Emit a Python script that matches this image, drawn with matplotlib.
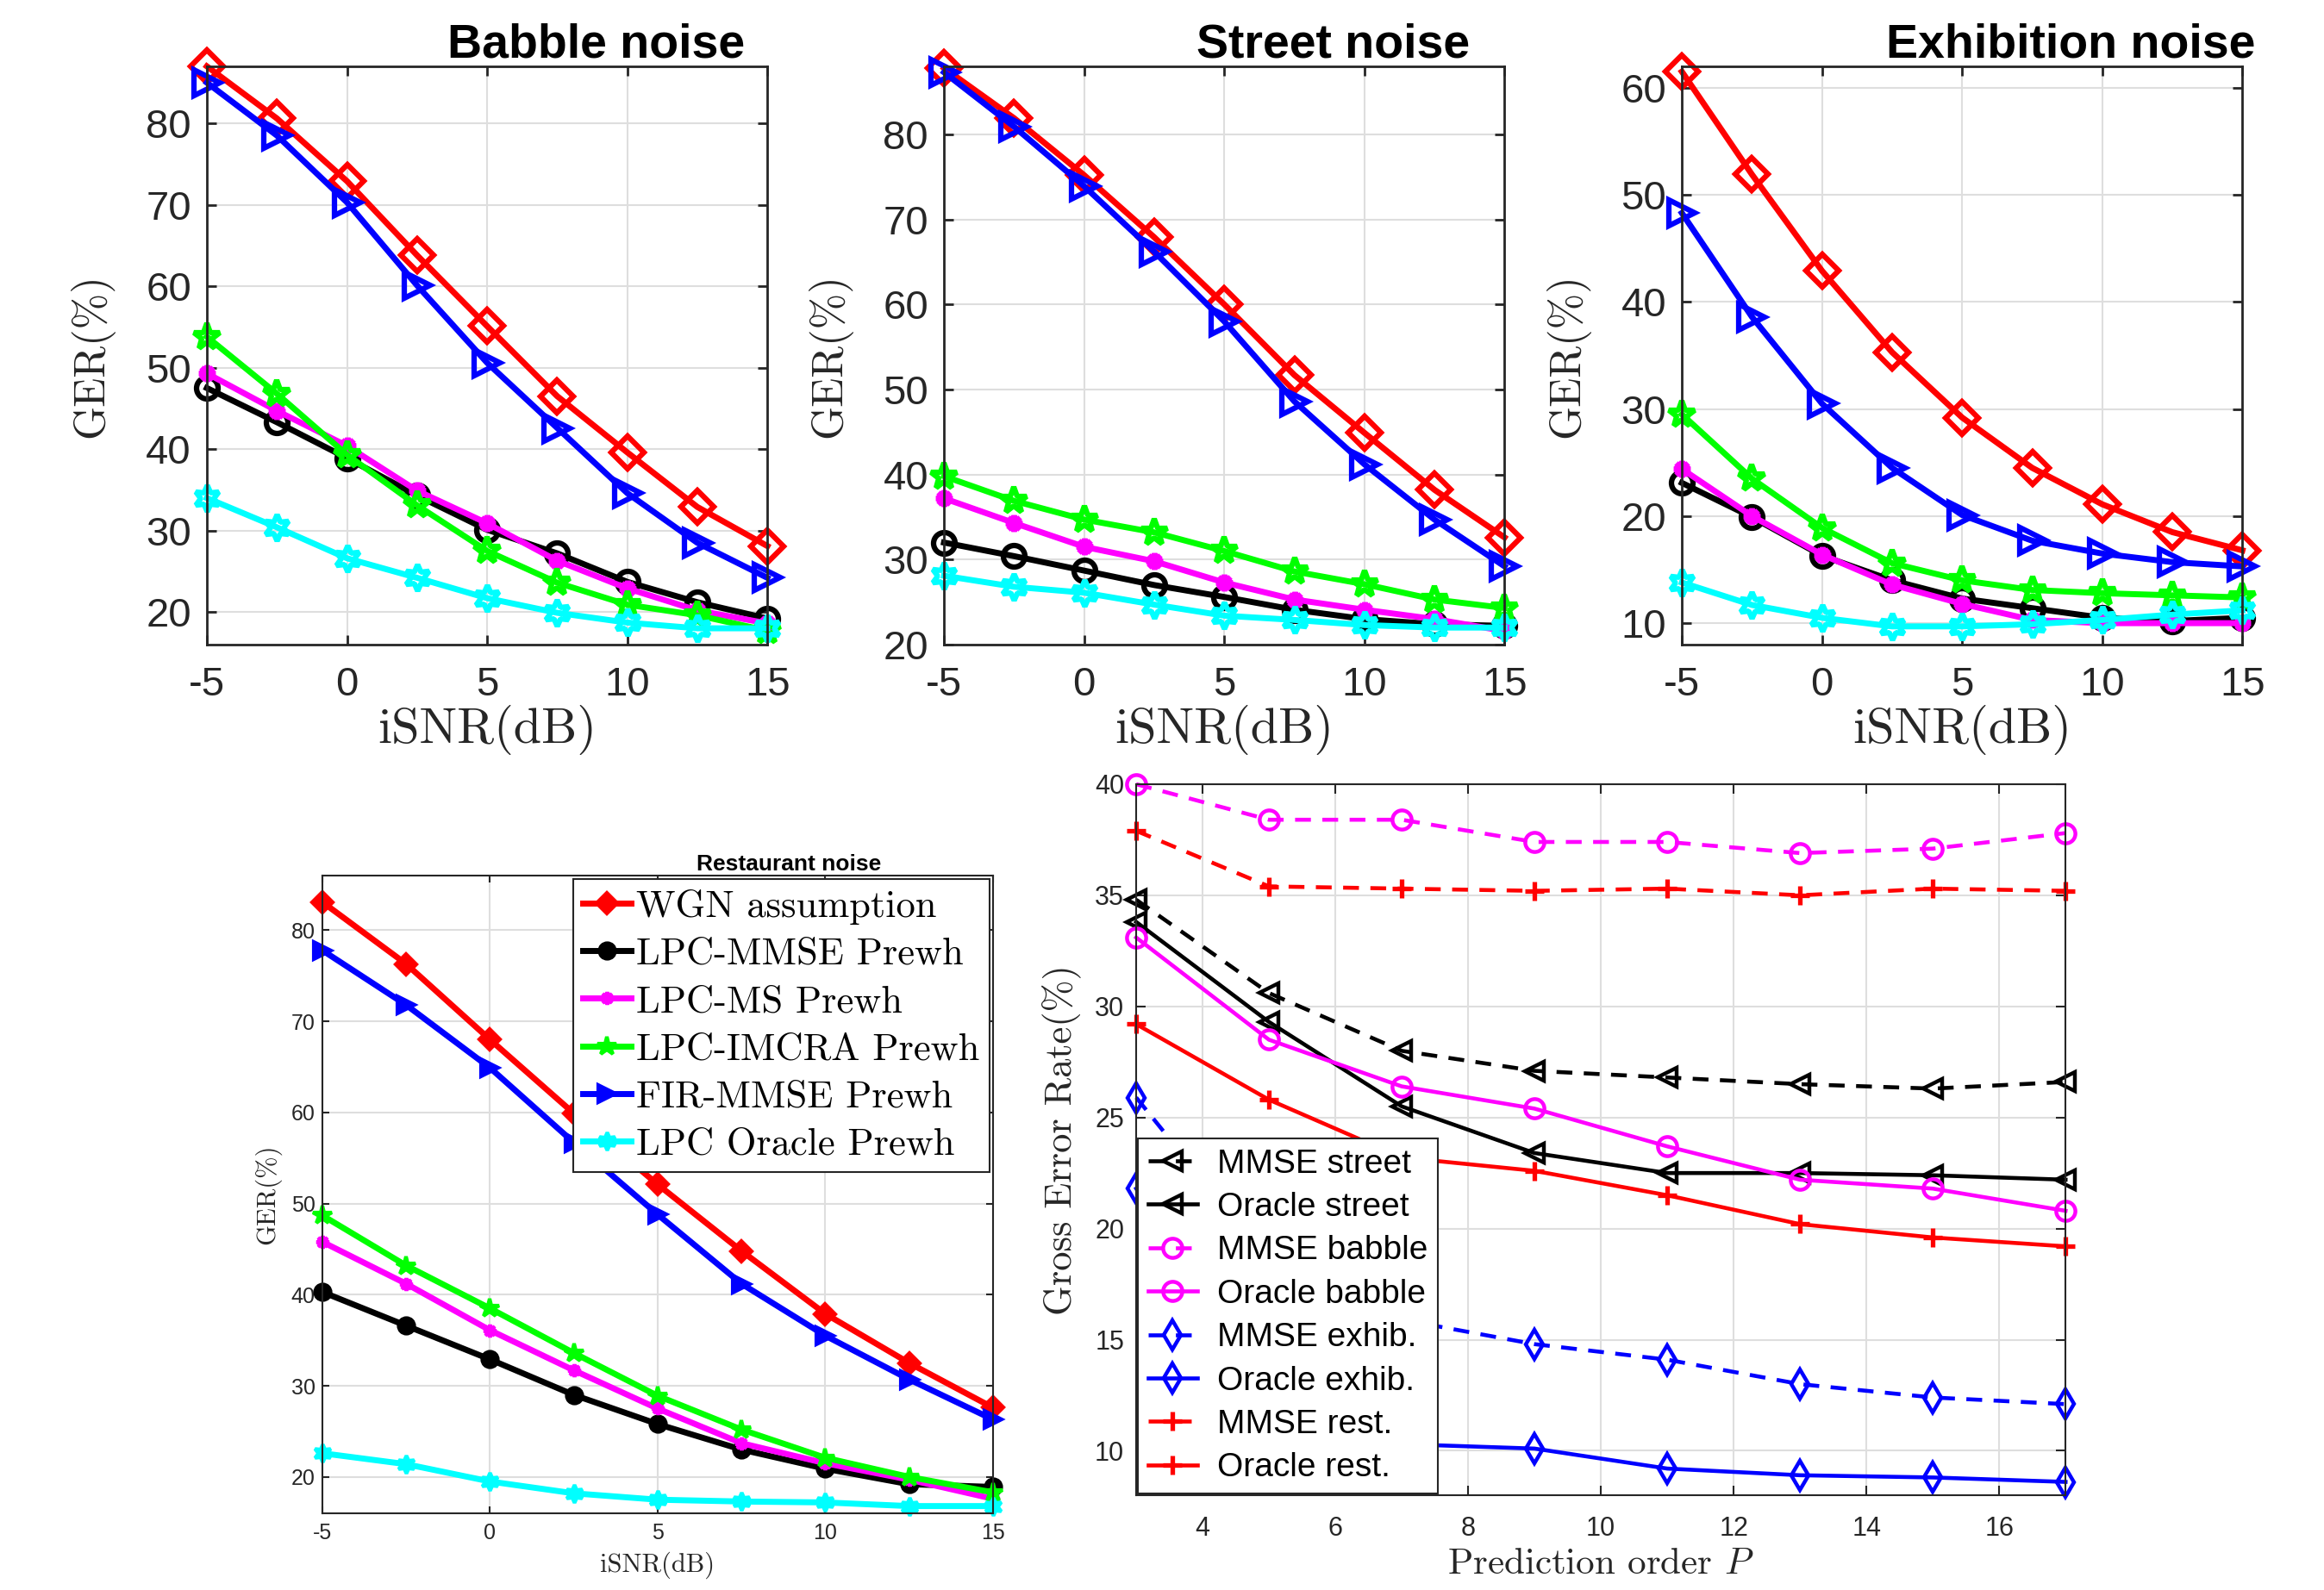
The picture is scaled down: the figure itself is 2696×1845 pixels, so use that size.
import matplotlib
matplotlib.use('Agg')
import matplotlib.pyplot as plt

plt.rcParams['font.family'] = ['Liberation Sans', 'DejaVu Sans']
plt.rcParams['mathtext.fontset'] = 'cm'
plt.rcParams['axes.unicode_minus'] = False

GRAY = '#262626'
GRID = '#dedede'

# --- GER vs iSNR, four noise types ---
snr = [-5, -2.5, 0, 2.5, 5, 7.5, 10, 12.5, 15]
methods = ['WGN assumption', 'LPC-MMSE Prewh', 'LPC-MS Prewh',
           'LPC-IMCRA Prewh', 'FIR-MMSE Prewh', 'LPC Oracle Prewh']

babble_wgn = [87.0, 80.6, 72.9, 63.8, 55.1, 46.5, 39.6, 32.9, 28.1]
babble_lpc_mmse = [47.5, 43.3, 38.9, 34.3, 30.1, 27.2, 23.7, 21.2, 19.2]
babble_lpc_ms = [49.3, 44.7, 40.4, 34.9, 30.9, 26.3, 22.9, 20.2, 18.6]
babble_lpc_imcra = [53.8, 46.8, 39.3, 33.1, 27.5, 23.6, 20.9, 19.6, 17.7]
babble_fir_mmse = [85.0, 78.5, 70.3, 60.1, 50.6, 42.6, 34.6, 28.5, 24.2]
babble_oracle = [34.0, 30.4, 26.6, 24.2, 21.7, 19.9, 18.7, 18.0, 18.0]

street_wgn = [87.8, 81.9, 75.2, 67.9, 60.0, 51.7, 44.9, 38.2, 32.6]
street_lpc_mmse = [32.0, 30.4, 28.7, 27.0, 25.6, 24.1, 23.0, 22.4, 22.2]
street_lpc_ms = [37.2, 34.3, 31.5, 29.8, 27.3, 25.3, 24.1, 23.0, 21.6]
street_lpc_imcra = [39.8, 36.9, 34.7, 33.2, 31.0, 28.6, 27.1, 25.3, 24.3]
street_fir_mmse = [87.3, 80.9, 73.9, 66.2, 58.0, 48.6, 41.2, 34.7, 29.2]
street_oracle = [28.1, 26.8, 26.1, 24.7, 23.4, 22.9, 22.3, 22.0, 22.0]

exhib_wgn = [61.5, 51.9, 42.9, 35.3, 29.2, 24.5, 21.1, 18.5, 16.8]
exhib_lpc_mmse = [23.1, 19.9, 16.3, 14.0, 12.3, 11.4, 10.5, 10.2, 10.5]
exhib_lpc_ms = [24.4, 20.0, 16.4, 13.6, 11.8, 10.3, 10.0, 10.0, 10.0]
exhib_lpc_imcra = [29.5, 23.5, 18.9, 15.6, 14.0, 13.1, 12.8, 12.6, 12.4]
exhib_fir_mmse = [48.3, 38.6, 30.5, 24.5, 20.1, 17.7, 16.5, 15.7, 15.3]
exhib_oracle = [13.8, 11.7, 10.5, 9.7, 9.7, 9.9, 10.3, 10.8, 11.2]

rest_wgn = [83.1, 76.3, 68.0, 59.9, 52.1, 44.8, 37.9, 32.5, 27.6]
rest_lpc_mmse = [40.3, 36.6, 32.9, 29.0, 25.8, 23.0, 20.9, 19.2, 18.9]
rest_lpc_ms = [45.8, 41.2, 36.1, 31.7, 27.5, 23.7, 21.5, 19.7, 17.6]
rest_lpc_imcra = [48.7, 43.2, 38.5, 33.6, 28.9, 25.2, 22.1, 20.0, 18.3]
rest_fir_mmse = [77.8, 71.8, 64.9, 56.7, 48.8, 41.2, 35.5, 30.7, 26.3]
rest_oracle = [22.6, 21.4, 19.5, 18.2, 17.5, 17.3, 17.2, 16.8, 16.8]

# --- GER vs prediction order ---
order = [3, 5, 7, 9, 11, 13, 15, 17]
order_labels = ['MMSE street', 'Oracle street', 'MMSE babble', 'Oracle babble',
                'MMSE exhib.', 'Oracle exhib.', 'MMSE rest.', 'Oracle rest.']
mmse_street = [34.8, 30.6, 28.0, 27.1, 26.8, 26.5, 26.3, 26.6]
oracle_street = [33.8, 29.3, 25.5, 23.4, 22.5, 22.5, 22.4, 22.2]
mmse_babble = [40.0, 38.4, 38.4, 37.4, 37.4, 36.9, 37.1, 37.8]
oracle_babble = [33.1, 28.5, 26.4, 25.4, 23.7, 22.2, 21.8, 20.8]
mmse_exhib = [25.9, 18.5, 15.9, 14.8, 14.1, 13.0, 12.4, 12.1]
oracle_exhib = [21.8, 12.0, 10.3, 10.1, 9.2, 8.9, 8.8, 8.6]
mmse_rest = [37.9, 35.4, 35.3, 35.2, 35.3, 35.0, 35.3, 35.2]
oracle_rest = [29.2, 25.8, 23.2, 22.6, 21.5, 20.2, 19.6, 19.2]

colors = ['#ff0000', '#000000', '#ff00ff', '#00ff00', '#0000ff', '#00ffff']
markers = ['D', 'o', (8, 2, 0), '*', '>', (6, 1, 0)]
top_ms = [19, 18, 14, 23, 22, 22]
rest_ms = [12, 13, 11, 16, 15, 15]


def style_axes(ax, labelsize, padx, pady, ticklen, lw=1.5):
    ax.tick_params(direction='in', top=True, right=True, length=ticklen,
                   width=lw, colors=GRAY, labelsize=labelsize)
    ax.tick_params(axis='x', pad=padx)
    ax.tick_params(axis='y', pad=pady)
    for s in ax.spines.values():
        s.set_color(GRAY)
        s.set_linewidth(lw)
    ax.grid(True, color=GRID, linewidth=1.5)
    ax.set_axisbelow(True)


fig = plt.figure(figsize=(26.96, 18.45), dpi=100)

top = [
    ('Babble noise', [babble_wgn, babble_lpc_mmse, babble_lpc_ms, babble_lpc_imcra, babble_fir_mmse, babble_oracle],
     (16, 87), range(20, 90, 10), 0.0890),
    ('Street noise', [street_wgn, street_lpc_mmse, street_lpc_ms, street_lpc_imcra, street_fir_mmse, street_oracle],
     (20, 88), range(20, 90, 10), 0.4062),
    ('Exhibition noise', [exhib_wgn, exhib_lpc_mmse, exhib_lpc_ms, exhib_lpc_imcra, exhib_fir_mmse, exhib_oracle],
     (8, 62), range(10, 70, 10), 0.7237),
]

for title, series, ylim, yticks, left in top:
    ax = fig.add_axes([left, 0.5946, 0.2412, 0.3637])
    for vals, c, m, ms in zip(series, colors, markers, top_ms):
        ax.plot(snr, vals, color=c, lw=5, marker=m, ms=ms, mfc='none', mew=4.5, clip_on=False)
    ax.set_xlim(-5, 15)
    ax.set_ylim(*ylim)
    ax.set_xticks([-5, 0, 5, 10, 15])
    ax.set_yticks(list(yticks))
    style_axes(ax, 34, 18, 13, 8, lw=2)
    ax.set_xlabel('iSNR(dB)', family='cmr10', fontsize=42, color=GRAY, va='center')
    ax.xaxis.set_label_coords(0.5, -0.148)
    ax.set_ylabel('GER(%)', family='cmr10', fontsize=36, color=GRAY, va='center')
    ax.yaxis.set_label_coords(-0.205, 0.5)
    ax.text(0.694, 1.015, title, transform=ax.transAxes, ha='center', va='baseline',
            fontsize=40, fontweight='bold', color='black')

# restaurant panel
ax = fig.add_axes([0.1387, 0.0482, 0.2886, 0.4011])
rest = [rest_wgn, rest_lpc_mmse, rest_lpc_ms, rest_lpc_imcra, rest_fir_mmse, rest_oracle]
for vals, c, m, ms, lab in zip(rest, colors, markers, rest_ms, methods):
    ax.plot(snr, vals, color=c, lw=5, marker=m, ms=ms, mfc=c, mew=3, clip_on=False, label=lab)
ax.set_xlim(-5, 15)
ax.set_ylim(16, 86)
ax.set_xticks([-5, 0, 5, 10, 15])
ax.set_yticks(range(20, 90, 10))
style_axes(ax, 18, 8, 6, 6)
ax.set_xlabel('iSNR(dB)', family='cmr10', fontsize=22, color=GRAY, va='center')
ax.xaxis.set_label_coords(0.5, -0.082)
ax.set_ylabel('GER(%)', family='cmr10', fontsize=22, color=GRAY, va='center')
ax.yaxis.set_label_coords(-0.081, 0.5)
ax.text(0.695, 1.008, 'Restaurant noise', transform=ax.transAxes, ha='center', va='baseline',
        fontsize=19, fontweight='bold', color='black')
leg = ax.legend(loc='upper right', prop={'family': 'cmr10', 'size': 32}, handlelength=1.25,
                handletextpad=0.15, borderpad=0.25, labelspacing=0.34, borderaxespad=0.1,
                fancybox=False, framealpha=1, edgecolor=GRAY)
leg.get_frame().set_linewidth(1.5)

# prediction order panel
ax = fig.add_axes([0.4889, 0.0596, 0.3999, 0.4472])
order_series = [mmse_street, oracle_street, mmse_babble, oracle_babble,
                mmse_exhib, oracle_exhib, mmse_rest, oracle_rest]
order_colors = ['#000000', '#000000', '#ff00ff', '#ff00ff', '#0000ff', '#0000ff', '#ff0000', '#ff0000']
order_markers = ['<', '<', 'o', 'o', 'd', 'd', '+', '+']
order_ms = [16, 16, 16, 16, 17, 17, 16, 16]
for i, (vals, c, m, ms, lab) in enumerate(zip(order_series, order_colors, order_markers, order_ms, order_labels)):
    dashed = i % 2 == 0
    line, = ax.plot(order, vals, color=c, lw=3.3, marker=m, ms=ms, mfc='none',
                    mew=3.8 if m == '+' else 3.2, clip_on=False, label=lab)
    if dashed:
        line.set_dashes((4.0, 2.9))
ax.set_xlim(3, 17)
ax.set_ylim(8, 40)
ax.set_xticks(range(4, 18, 2))
ax.set_yticks(range(10, 45, 5))
style_axes(ax, 22, 17, 10, 8)
ax.set_xlabel('Prediction order $P$', family='cmr10', fontsize=31, color=GRAY, va='center')
ax.xaxis.set_label_coords(0.5, -0.097)
ax.set_ylabel('Gross Error Rate(%)', family='cmr10', fontsize=32, color=GRAY, va='center')
ax.yaxis.set_label_coords(-0.081, 0.5)
leg = ax.legend(loc='lower left', fontsize=28, handlelength=1.47, handletextpad=0.6,
                borderpad=0.3, labelspacing=0.37, borderaxespad=0.05,
                fancybox=False, framealpha=1, edgecolor=GRAY)
leg.get_frame().set_linewidth(1.5)

fig.savefig('out.png', dpi=100, facecolor='white')
